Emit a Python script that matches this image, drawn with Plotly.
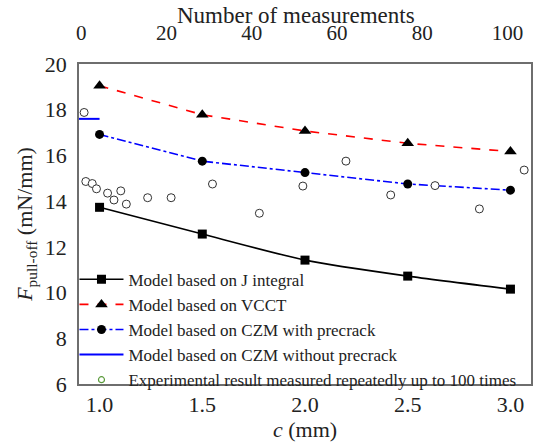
import plotly.graph_objects as go

# Crack length c (mm) at which the models were evaluated
c_model = [1.0, 1.5, 2.0, 2.5, 3.0]

# Pull-off force predictions (mN/mm)
f_j_integral = [13.73, 12.56, 11.42, 10.72, 10.15]
f_vcct = [19.05, 17.78, 17.07, 16.53, 16.17]
f_czm_precrack = [16.92, 15.75, 15.25, 14.75, 14.48]

# CZM without precrack: a single level
c_czm_noprecrack = [0.9, 1.0]
f_czm_noprecrack = [17.6, 17.6]

# Repeated experimental measurements (measurement index, pull-off force)
n_meas = [0.7, 1.1, 2.6, 3.6, 6.2, 7.7, 9.3, 10.6, 15.6, 21.1,
          30.8, 41.8, 52.0, 62.1, 72.6, 83.0, 93.4, 103.9]
f_meas = [17.88, 14.86, 14.77, 14.54, 14.35, 14.05, 14.45, 13.87, 14.15, 14.15,
          14.75, 13.47, 14.66, 15.75, 14.27, 14.68, 13.66, 15.36]

FONT = "'Liberation Serif', 'DejaVu Serif', serif"
AXIS_COLOR = "#6e6e6e"

fig = go.Figure()

fig.add_trace(go.Scatter(
    x=c_model, y=f_j_integral, mode="lines+markers",
    name="Model based on J integral",
    line=dict(color="black", width=1.6, shape="spline", smoothing=0.6),
    marker=dict(symbol="square", size=9, color="black"),
))
fig.add_trace(go.Scatter(
    x=c_model, y=f_vcct, mode="lines+markers",
    name="Model based on VCCT",
    line=dict(color="red", width=1.6, dash="dash"),
    marker=dict(symbol="triangle-up", size=11, color="black"),
))
fig.add_trace(go.Scatter(
    x=c_model, y=f_czm_precrack, mode="lines+markers",
    name="Model based on CZM with precrack",
    line=dict(color="blue", width=1.6, dash="dashdot"),
    marker=dict(symbol="circle", size=9, color="black"),
))
fig.add_trace(go.Scatter(
    x=c_czm_noprecrack, y=f_czm_noprecrack, mode="lines",
    name="Model based on CZM without precrack",
    line=dict(color="blue", width=2),
))
fig.add_trace(go.Scatter(
    x=n_meas, y=f_meas, mode="markers", xaxis="x2",
    showlegend=False, name="Experimental",
    marker=dict(symbol="circle", size=8, color="white",
                line=dict(color="#333333", width=1)),
))
# legend entry for the measurements (small green ring)
fig.add_trace(go.Scatter(
    x=[None], y=[None], mode="markers", xaxis="x2",
    name="Experimental result measured repeatedly up to 100 times",
    marker=dict(symbol="circle-open", size=6, color="#5a9a3a",
                line=dict(width=1.2)),
))

fig.update_layout(
    width=540, height=444,
    margin=dict(l=79, r=7, t=64, b=51),
    paper_bgcolor="white", plot_bgcolor="white",
    font=dict(family=FONT, size=22, color="#222222"),
    showlegend=True,
    legend=dict(
        x=-0.01, y=-0.043, xanchor="left", yanchor="bottom",
        bgcolor="rgba(0,0,0,0)", borderwidth=0,
        font=dict(family=FONT, size=17, color="#222222"),
        itemwidth=44, tracegroupgap=0,
    ),
    xaxis=dict(
        range=[0.9, 3.1], tickvals=[1.0, 1.5, 2.0, 2.5, 3.0],
        tickformat=".1f", showgrid=False, zeroline=False,
        showline=True, linecolor=AXIS_COLOR, linewidth=1.5, mirror=False,
        ticks="", title=dict(text="<i>c</i> (mm)", standoff=4,
                             font=dict(family=FONT, size=22)),
        tickfont=dict(family=FONT, size=22),
    ),
    xaxis2=dict(
        overlaying="x", side="top", range=[-0.5, 105.5],
        tickvals=[0, 20, 40, 60, 80, 100], showgrid=False, zeroline=False,
        showline=True, linecolor=AXIS_COLOR, linewidth=1.5,
        ticks="", ticklabelstandoff=14,
        tickfont=dict(family=FONT, size=21),
    ),
    yaxis=dict(
        range=[6, 20], tickvals=[6, 8, 10, 12, 14, 16, 18, 20],
        showgrid=False, zeroline=False,
        showline=True, linecolor=AXIS_COLOR, linewidth=1.5, mirror=True,
        ticks="", ticklabelstandoff=6,
        title=dict(text="<i>F</i><sub>pull-off</sub> (mN/mm)", standoff=6,
                   font=dict(family=FONT, size=22)),
        tickfont=dict(family=FONT, size=22),
    ),
    annotations=[dict(
        text="Number of measurements", xref="paper", yref="paper",
        x=0.48, y=1.1963, xanchor="center", yanchor="top",
        showarrow=False, font=dict(family=FONT, size=23, color="#222222"),
    )],
)

fig.write_html("out.html")
